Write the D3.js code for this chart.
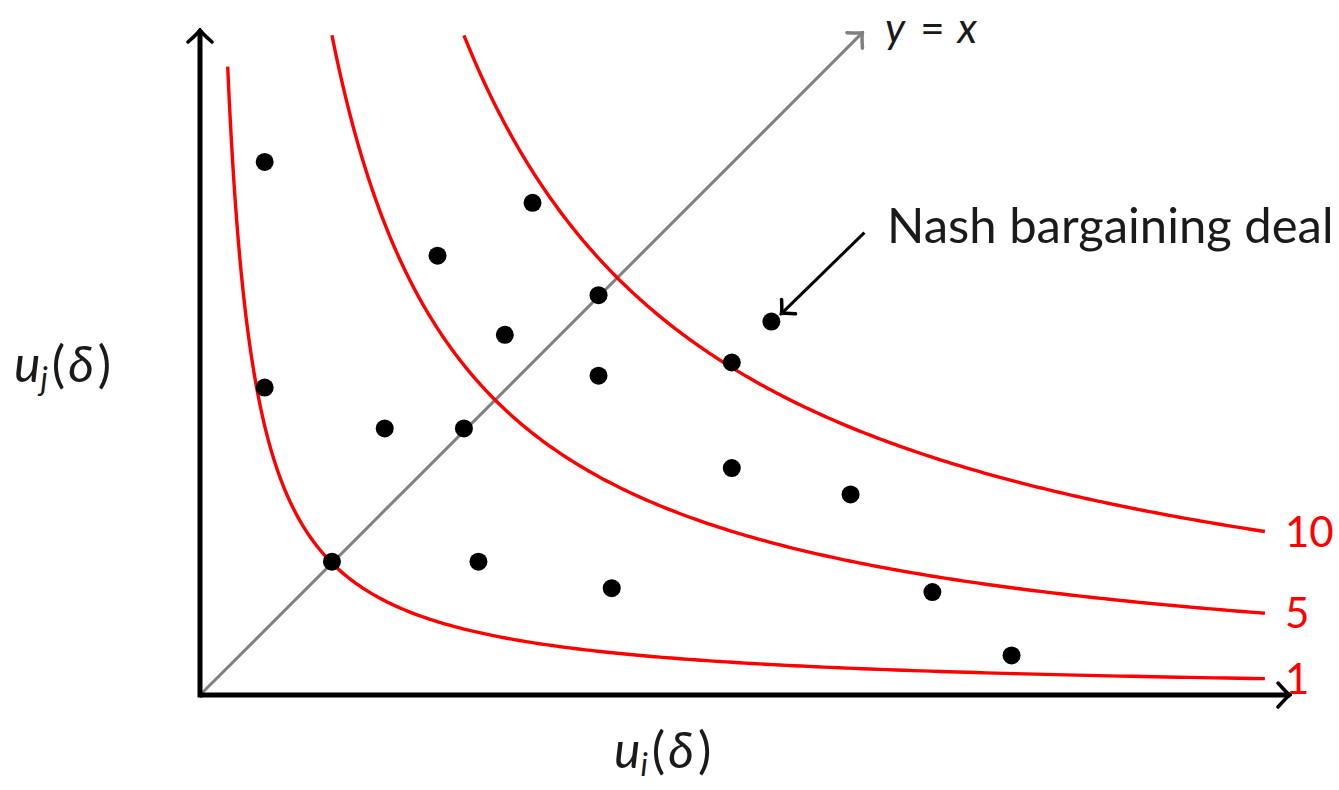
<!DOCTYPE html>
<html>
<head>
<meta charset="utf-8">
<script src="https://cdn.jsdelivr.net/npm/d3@7"></script>
<style>
  body { margin: 0; background: #fff; }
  text { font-family: "Lato", "Open Sans", sans-serif; }
</style>
</head>
<body>
<div id="chart"></div>
<script>
// level values of the indifference curves u_i * u_j = k, and where each one starts on x
var levels = [1, 5, 10]
var levelStart = [0.21, 1.0, 2.0]
var levelEnd = 8.07

// possible deals (u_i, u_j)
var dealX = [0.49, 2.52, 1.80, 3.02, 2.31, 4.33, 4.03, 3.02, 0.49, 1.40, 2.00, 4.03, 4.93, 1.00, 2.11, 3.12, 5.55, 6.15]
var dealY = [4.04, 3.73, 3.33, 3.03, 2.73, 2.83, 2.52, 2.42, 2.33, 2.02, 2.02, 1.72, 1.52, 1.01, 1.01, 0.81, 0.78, 0.30]

// the Nash bargaining deal
var nash = [4.33, 2.83]

var width = 1339, height = 790

var svg = d3.select("#chart")
    .append("svg")
    .attr("width", width)
    .attr("height", height)

// equal scale on both axes, origin at the corner
var x = d3.scaleLinear().domain([0, 8.26]).range([200, 1290])
var y = d3.scaleLinear().domain([0, 5.04]).range([695, 30])

// arrow heads, tikz style
var defs = svg.append("defs")
function arrowHead(id, color, size) {
    defs.append("marker")
        .attr("id", id)
        .attr("markerUnits", "userSpaceOnUse")
        .attr("viewBox", "-14 -14 16 28")
        .attr("refX", 0).attr("refY", 0)
        .attr("markerWidth", 16).attr("markerHeight", 28)
        .attr("orient", "auto")
        .append("path")
        .attr("d", "M" + (-size) + "," + (-size) + " Q" + (-size * 0.25) + "," + (-size * 0.15) + " 0,0 Q" + (-size * 0.25) + "," + (size * 0.15) + " " + (-size) + "," + size)
        .attr("fill", "none")
        .attr("stroke", color)
        .attr("stroke-width", 3.5)
        .attr("stroke-linecap", "round")
}
arrowHead("arrBlack", "#000", 12)
arrowHead("arrGray", "#808080", 11)
arrowHead("arrSmall", "#000", 10)

// y = x line
svg.append("line")
    .attr("x1", x(0)).attr("y1", y(0))
    .attr("x2", x(5.02)).attr("y2", y(5.02))
    .attr("stroke", "#808080")
    .attr("stroke-width", 3)
    .attr("marker-end", "url(#arrGray)")

// indifference curves
var line = d3.line()
    .x(function(d) { return x(d[0]) })
    .y(function(d) { return y(d[1]) })

levels.forEach(function(k, i) {
    var pts = []
    var x0 = levelStart[i]
    for (var t = 0; t <= 300; t++) {
        var u = x0 * Math.pow(levelEnd / x0, t / 300)
        pts.push([u, k / u])
    }
    svg.append("path")
        .attr("d", line(pts))
        .attr("fill", "none")
        .attr("stroke", "#ff0000")
        .attr("stroke-width", 3.4)

    svg.append("text")
        .attr("x", x(levelEnd) + 20)
        .attr("y", y(k / levelEnd) + 15)
        .attr("fill", "#ff0000")
        .style("font-size", "42px")
        .text(k)
})

// axes
svg.append("line")
    .attr("x1", x(0)).attr("y1", y(0))
    .attr("x2", x(8.26)).attr("y2", y(0))
    .attr("stroke", "#000").attr("stroke-width", 5)
    .attr("marker-end", "url(#arrBlack)")
svg.append("line")
    .attr("x1", x(0)).attr("y1", y(0) + 2.5)
    .attr("x2", x(0)).attr("y2", y(5.04))
    .attr("stroke", "#000").attr("stroke-width", 5)
    .attr("marker-end", "url(#arrBlack)")

// deals
svg.selectAll("circle.deal")
    .data(dealX)
    .enter()
    .append("circle")
    .attr("class", "deal")
    .attr("cx", function(d) { return x(d) })
    .attr("cy", function(d, i) { return y(dealY[i]) })
    .attr("r", 9)
    .attr("fill", "#000")

// pointer to the Nash deal
svg.append("line")
    .attr("x1", x(nash[0]) + 93).attr("y1", y(nash[1]) - 89)
    .attr("x2", x(nash[0]) + 10).attr("y2", y(nash[1]) - 8)
    .attr("stroke", "#000").attr("stroke-width", 3)
    .attr("marker-end", "url(#arrSmall)")

svg.append("text")
    .attr("x", 887)
    .attr("y", 243)
    .style("font-size", "49px")
    .attr("fill", "#1a1a1a")
    .text("Nash bargaining deal")

// labels
var yx = svg.append("text")
    .attr("x", 885).attr("y", 43)
    .style("font-size", "42px")
    .attr("fill", "#1a1a1a")
yx.append("tspan").style("font-style", "italic").text("y")
yx.append("tspan").attr("dx", 15).text("=")
yx.append("tspan").attr("dx", 13).style("font-style", "italic").text("x")

function axisLabel(tx, ty, sub) {
    var t = svg.append("text")
        .attr("x", tx).attr("y", ty)
        .style("font-size", "50px")
        .attr("fill", "#1a1a1a")
    t.append("tspan").style("font-style", "italic").text("u")
    t.append("tspan").style("font-style", "italic").style("font-size", "32px").attr("dy", 8).text(sub)
    t.append("tspan").attr("dy", -8).attr("dx", 4).text("(")
    t.append("tspan").attr("dx", 3).style("font-style", "italic").text("δ")
    t.append("tspan").attr("dx", 4).text(")")
}
axisLabel(14, 382, "j")
axisLabel(614, 768, "i")
</script>
</body>
</html>
